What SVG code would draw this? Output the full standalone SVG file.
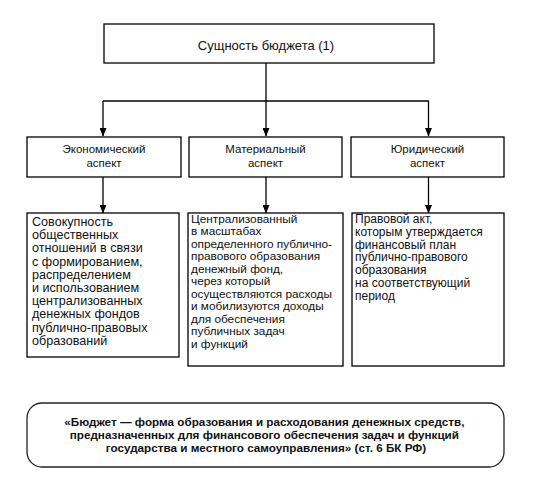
<svg xmlns="http://www.w3.org/2000/svg" width="547" height="480" viewBox="0 0 547 480">
<defs>
<style>
.box{fill:#fff;stroke:#000;stroke-width:1.3}
.t{font-family:"Liberation Sans",Arial,sans-serif;fill:#111}
.c{text-anchor:middle}
.b{font-weight:bold}
.line{fill:none;stroke:#000;stroke-width:1.3}
</style>
<marker id="down" markerUnits="userSpaceOnUse" markerWidth="7" markerHeight="9" refX="3.5" refY="8" orient="0" viewBox="0 0 7 9">
<path d="M0,0 L7,0 L3.5,8.5 Z" fill="#000"/>
</marker>
</defs>
<rect width="547" height="480" fill="#fff"/>
<g id="connectors">
<path class="line" d="M266,63 V101"/>
<path class="line" d="M103,101 H429"/>
<path class="line" d="M103,101 V136" marker-end="url(#down)"/>
<path class="line" d="M266,101 V136" marker-end="url(#down)"/>
<path class="line" d="M428.5,101 V136" marker-end="url(#down)"/>
<path class="line" d="M103,177 V213" marker-end="url(#down)"/>
<path class="line" d="M266,177 V213" marker-end="url(#down)"/>
<path class="line" d="M428.5,177 V213" marker-end="url(#down)"/>
</g>
<g id="root">
<rect class="box" x="104" y="24" width="330" height="39"/>
<text class="t c" x="266" y="50" font-size="13">Сущность бюджета (1)</text>
</g>
<g id="econ">
<rect class="box" x="27" y="137" width="154" height="40"/>
<text class="t c" x="104" y="153" font-size="11.5">Экономический</text>
<text class="t c" x="104" y="167" font-size="11.5">аспект</text>
</g>
<g id="mat">
<rect class="box" x="189" y="137" width="153" height="40"/>
<text class="t c" x="265.5" y="153" font-size="11.5">Материальный</text>
<text class="t c" x="265.5" y="167" font-size="11.5">аспект</text>
</g>
<g id="jur">
<rect class="box" x="351" y="137" width="153" height="40"/>
<text class="t c" x="427.5" y="153" font-size="11.5">Юридический</text>
<text class="t c" x="427.5" y="167" font-size="11.5">аспект</text>
</g>
<g id="econ-def">
<rect class="box" x="27" y="213" width="152" height="144"/>
<text class="t" font-size="12.6">
<tspan x="32" y="226">Совокупность</tspan>
<tspan x="32" y="239.2">общественных</tspan>
<tspan x="32" y="252.4">отношений в связи</tspan>
<tspan x="32" y="265.6">с формированием,</tspan>
<tspan x="32" y="278.8">распределением</tspan>
<tspan x="32" y="292">и использованием</tspan>
<tspan x="32" y="305.2">централизованных</tspan>
<tspan x="32" y="318.4">денежных фондов</tspan>
<tspan x="32" y="331.6">публично-правовых</tspan>
<tspan x="32" y="344.8">образований</tspan>
</text>
</g>
<g id="mat-def">
<rect class="box" x="188" y="213" width="155" height="153"/>
<text class="t" font-size="11.8">
<tspan x="191" y="222.5">Централизованный</tspan>
<tspan x="191" y="235">в масштабах</tspan>
<tspan x="191" y="247.5">определенного публично-</tspan>
<tspan x="191" y="260">правового образования</tspan>
<tspan x="191" y="272.5">денежный фонд,</tspan>
<tspan x="191" y="285">через который</tspan>
<tspan x="191" y="297.5">осуществляются расходы</tspan>
<tspan x="191" y="310">и мобилизуются доходы</tspan>
<tspan x="191" y="322.5">для обеспечения</tspan>
<tspan x="191" y="335">публичных задач</tspan>
<tspan x="191" y="347.5">и функций</tspan>
</text>
</g>
<g id="jur-def">
<rect class="box" x="352" y="213" width="152" height="153"/>
<text class="t" font-size="12">
<tspan x="355" y="223">Правовой акт,</tspan>
<tspan x="355" y="235.8">которым утверждается</tspan>
<tspan x="355" y="248.6">финансовый план</tspan>
<tspan x="355" y="261.4">публично-правового</tspan>
<tspan x="355" y="274.2">образования</tspan>
<tspan x="355" y="287">на соответствующий</tspan>
<tspan x="355" y="299.8">период</tspan>
</text>
</g>
<g id="definition">
<rect x="27" y="403" width="477" height="64" rx="15" ry="15" fill="#fff" stroke="#222" stroke-width="1.3"/>
<text class="t c b" font-size="11.7">
<tspan x="266" y="425.5">«Бюджет — форма образования и расходования денежных средств,</tspan>
<tspan x="266" y="438.5">предназначенных для финансового обеспечения задач и функций</tspan>
<tspan x="266" y="451.5">государства и местного самоуправления» (ст. 6 БК РФ)</tspan>
</text>
</g>
</svg>
